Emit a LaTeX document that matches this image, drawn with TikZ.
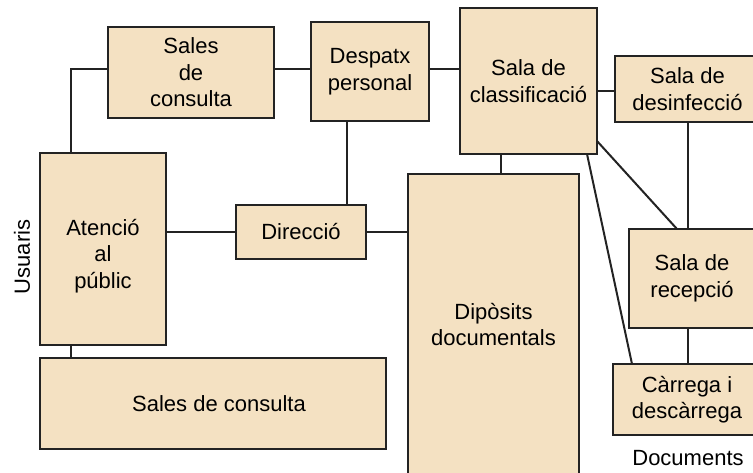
\documentclass[tikz,border=0pt]{standalone}
\usepackage{fontspec}
\setmainfont{Liberation Sans}
\usetikzlibrary{calc}
\definecolor{boxfill}{RGB}{244,225,194}
\definecolor{boxline}{RGB}{35,35,35}
\begin{document}
\begin{tikzpicture}[x=1pt,y=-1pt,
  txt/.style={font=\fontsize{22}{26.5}\selectfont, text=black, align=center},
  room/.style={draw=boxline, line width=2pt, fill=boxfill, inner sep=0pt, outer sep=0pt, rectangle, txt},
  link/.style={draw=boxline, line width=2pt}]
\useasboundingbox (0,0) rectangle (753,473);
% rooms
\node[room, minimum width=166pt, minimum height=91pt] (sc1) at (191,72.5) {Sales\\de\\consulta};
\node[room, minimum width=118pt, minimum height=99pt] (dp) at (370,71.5) {Despatx\\personal};
\node[room, minimum width=137pt, minimum height=146pt] (cl) at (528.5,81) {Sala de\\classificació};
\node[room, minimum width=145pt, minimum height=66pt] (df) at (687.5,89) {Sala de\\desinfecció};
\node[room, minimum width=126pt, minimum height=192pt,
  label={[txt, yshift=-7pt]center:{Atenció\\al\\públic}}] (at) at (103,249) {};
\node[room, minimum width=130pt, minimum height=54pt] (dir) at (301,232) {Direcció};
\node[room, minimum width=171pt, minimum height=301pt] (dep) at (493.5,324.5) {Dipòsits\\documentals};
\node[room, minimum width=126pt, minimum height=99pt] (rec) at (692,278.5) {Sala de\\recepció};
\node[room, minimum width=148pt, minimum height=71pt] (cr) at (687,399.5) {Càrrega i\\descàrrega};
\node[room, minimum width=346pt, minimum height=91pt,
  label={[txt, xshift=6pt]center:{Sales de consulta}}] (sc2) at (213,403.5) {};
% outside labels
\node[txt, rotate=90] (us) at (22,257) {Usuaris};
\node[txt] (docs) at (688,458) {Documents};
% helper coordinates
\coordinate (r1) at (0,69);
\coordinate (r2) at (0,91);
\coordinate (c71) at (71,0);
\coordinate (c347) at (347,0);
\coordinate (c501) at (501,0);
\coordinate (c688) at (688,0);
% connectors
\begin{scope}[on background layer/.style={}]
\draw[link] (sc1.west |- r1) -| (c71 |- at.north);
\draw[link] (sc1.east |- r1) -- (dp.west |- r1);
\draw[link] (dp.east |- r1) -- (cl.west |- r1);
\draw[link] (cl.east |- r2) -- (df.west |- r2);
\draw[link] (c347 |- dp.south) -- (c347 |- dir.north);
\draw[link] (at.east |- dir.west) -- (dir.west);
\draw[link] (dir.east) -- (dep.west |- dir.east);
\draw[link] (c501 |- cl.south) -- (c501 |- dep.north);
\draw[link] ($(cl.south east)+(0,-13)$) -- ($(rec.north west)+(48,0)$);
\draw[link] ($(cl.south east)+(-10,0)$) -- ($(cr.north west)+(19,0)$);
\draw[link] (c688 |- df.south) -- (c688 |- rec.north);
\draw[link] (c688 |- rec.south) -- (c688 |- cr.north);
\draw[link] (c71 |- at.south) -- (c71 |- sc2.north);
\end{scope}
\end{tikzpicture}
\end{document}
